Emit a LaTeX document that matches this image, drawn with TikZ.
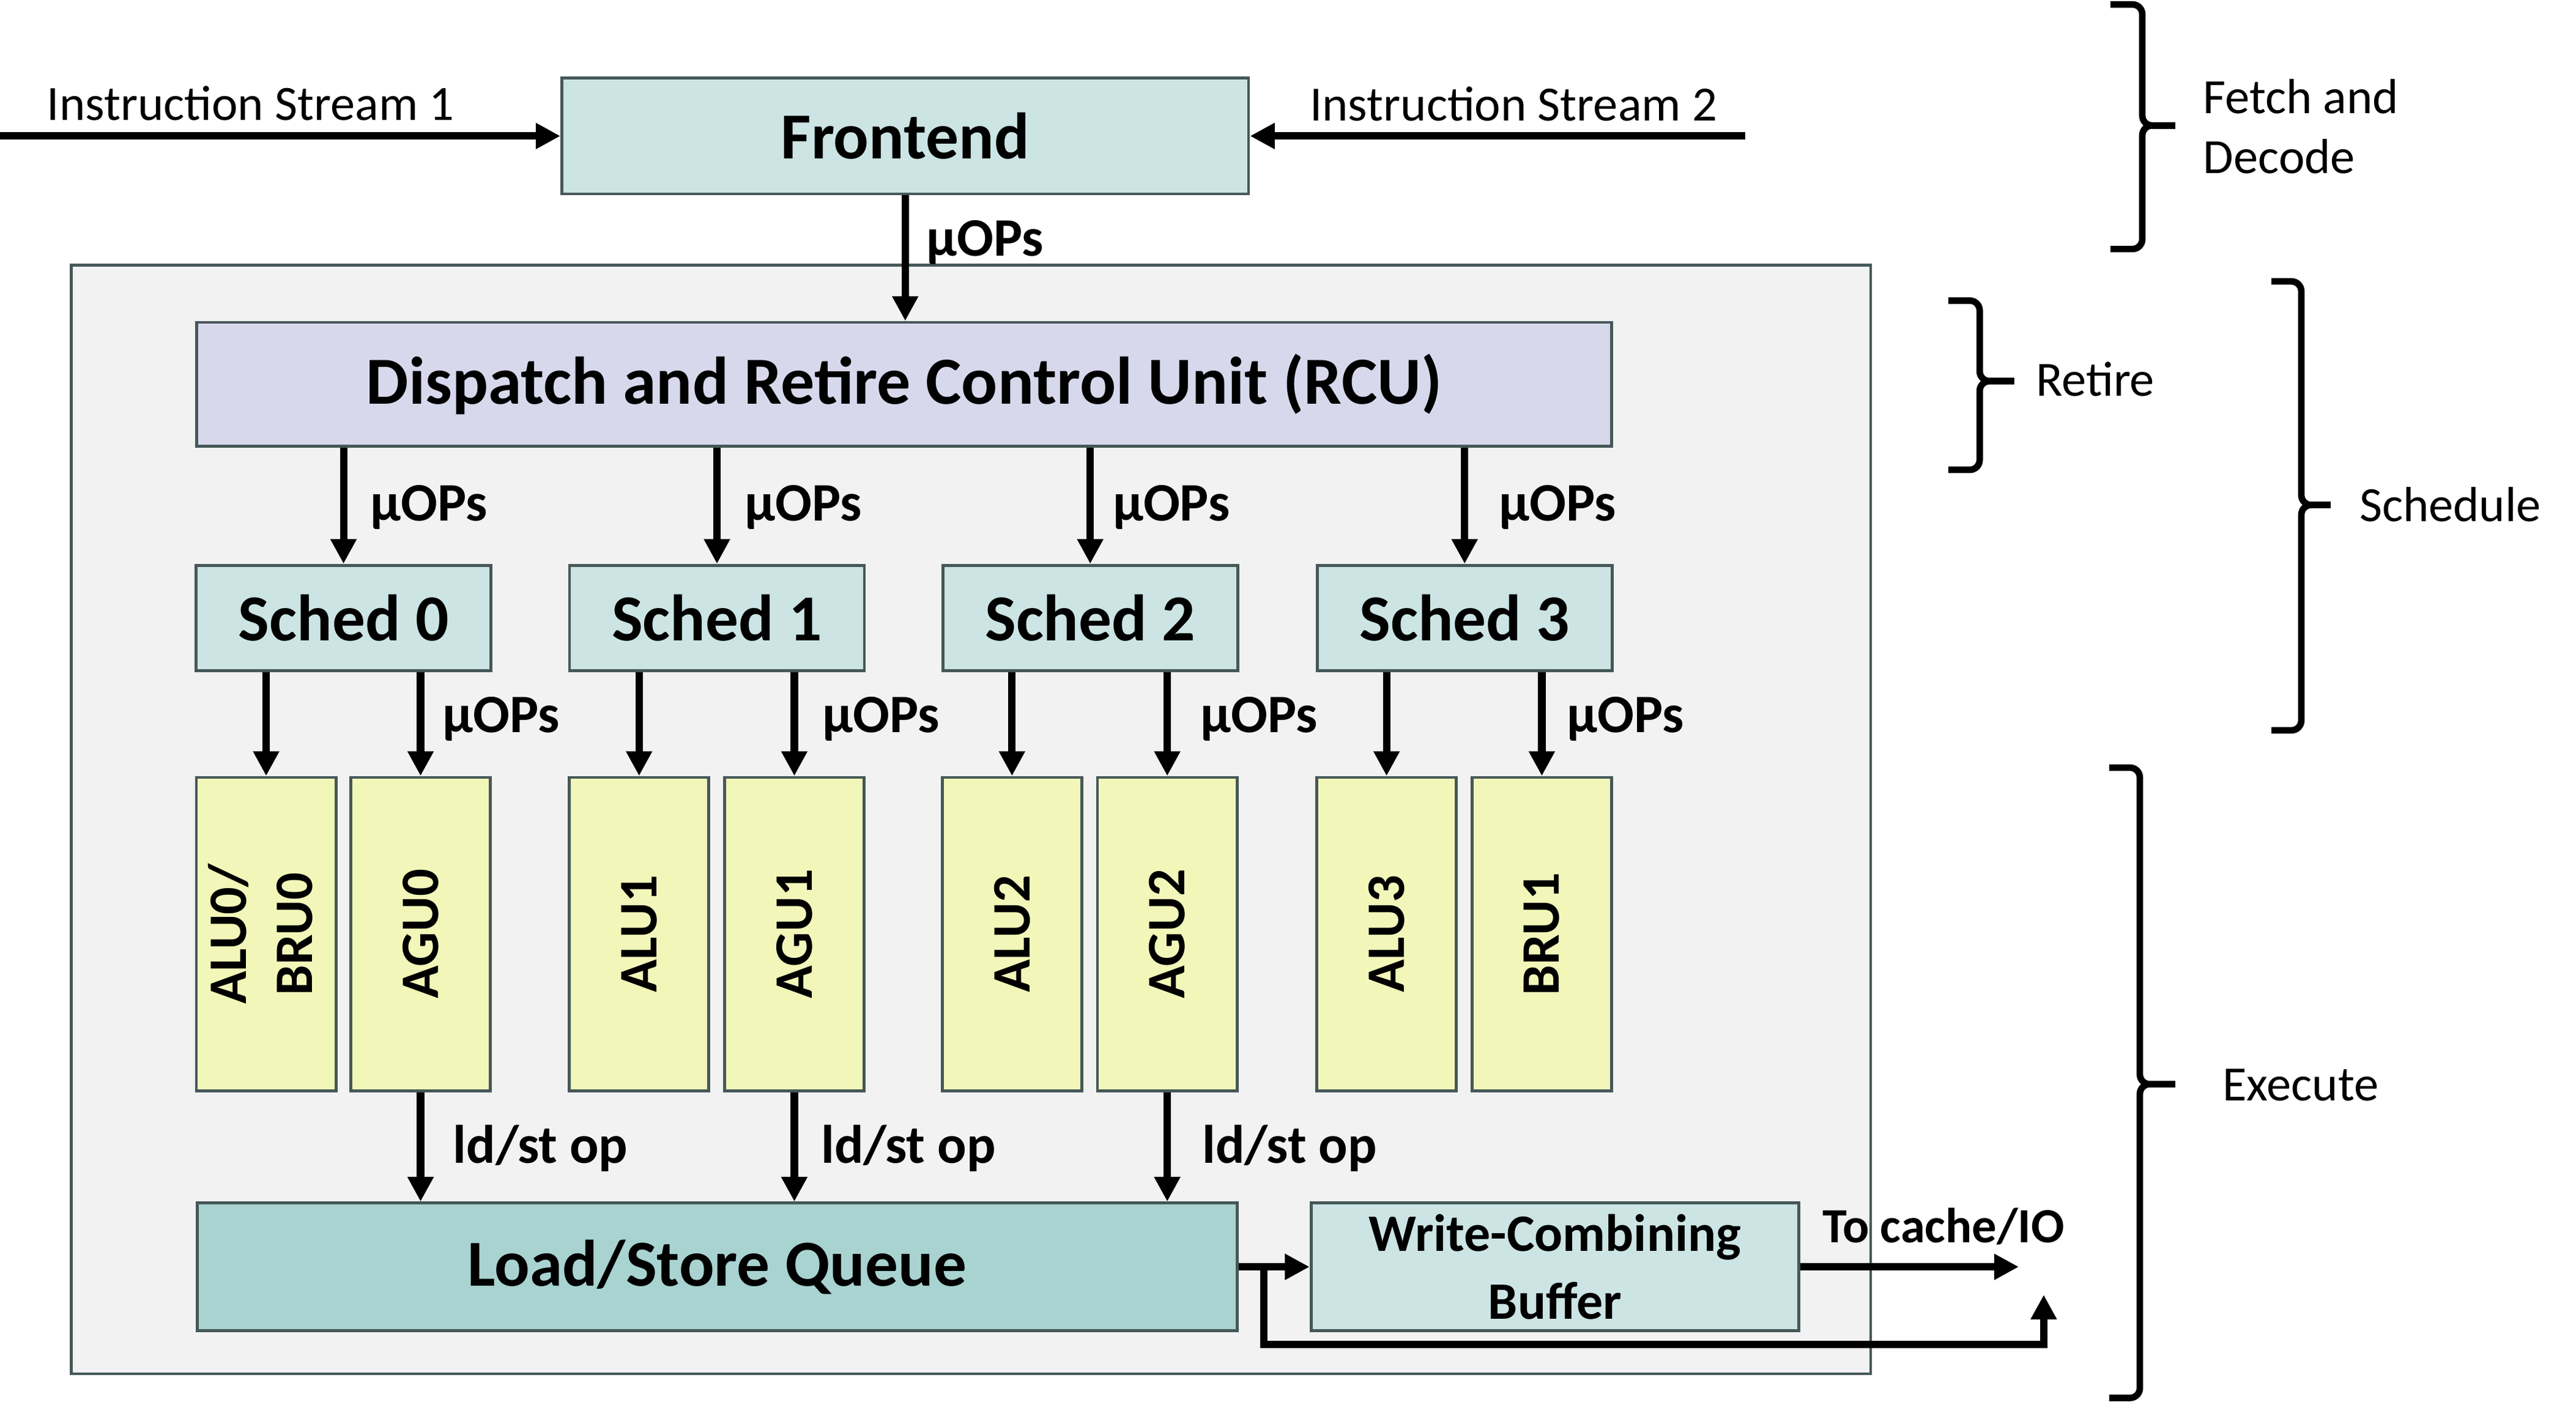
\documentclass[tikz,border=0pt]{standalone}
\usepackage{fontspec}
\setmainfont{Carlito}
\usetikzlibrary{arrows.meta}
\definecolor{boxblue}{RGB}{204,228,228}
\definecolor{rcufill}{RGB}{216,216,237}
\definecolor{unitfill}{RGB}{242,247,185}
\definecolor{lsqfill}{RGB}{168,211,209}
\definecolor{outerfill}{RGB}{242,242,242}
\definecolor{edgecol}{RGB}{70,88,88}
\begin{document}
\begin{tikzpicture}[x=1pt,y=-1pt,
  blockbox/.style={draw=edgecol, line width=1.8pt, inner sep=0pt, anchor=center},
  boxtxt/.style={font=\fontsize{40}{48}\selectfont\bfseries},
  unitbox/.style={blockbox, fill=unitfill, minimum width=85pt, minimum height=190.7pt,
     font=\fontsize{33}{40}\selectfont\bfseries},
  schedbox/.style={blockbox, fill=boxblue, boxtxt, minimum width=179.5pt, minimum height=64.2pt},
  arrlbl/.style={font=\fontsize{33}{40}\selectfont\bfseries, inner sep=0pt, anchor=base},
  streamtxt/.style={font=\fontsize{30}{36.4}\selectfont, inner sep=0pt, anchor=base},
  stagetxt/.style={font=\fontsize{30}{36.4}\selectfont, inner sep=0pt, anchor=base west, align=left},
  fuarrow/.style={line width=4.5pt, -{Triangle[width=15pt,length=15pt]}},
  bracepath/.style={line width=4pt, rounded corners=6pt}
]
\useasboundingbox (0,0) rectangle (1568,855.3);

% outer core box
\node[blockbox, fill=outerfill, minimum width=1095.3pt, minimum height=674.8pt] (core) at (591,498.9) {};

% frontend
\node[blockbox, fill=boxblue, boxtxt, minimum width=418pt, minimum height=70.5pt] (fe) at (551,82.8) {Frontend};
\coordinate (src1) at (0,82.8);
\coordinate (src2) at (1062.3,82.8);
\draw[fuarrow] (src1) -- (fe.west);
\draw[fuarrow] (src2) -- (fe.east);
\node[streamtxt] (is1) at (152.6,73.2) {Instruction Stream 1};
\node[streamtxt] (is2) at (921.3,73.7) {Instruction Stream 2};

% RCU
\node[blockbox, fill=rcufill, font=\fontsize{41}{48}\selectfont\bfseries, minimum width=861.3pt, minimum height=75.5pt] (rcu) at (550.4,234) {Dispatch and Retire Control Unit (RCU)};
\draw[fuarrow] (fe.south) -- (fe.south |- rcu.north);
\node[arrlbl] (lfe) at (599.7,155.7) {μOPs};

% schedulers
\node[schedbox] (s0) at (209.1,376.2) {Sched 0};
\node[schedbox] (s1) at (436.4,376.2) {Sched 1};
\node[schedbox] (s2) at (663.6,376.2) {Sched 2};
\node[schedbox] (s3) at (891.5,376.2) {Sched 3};
\foreach \s in {s0,s1,s2,s3}{
  \draw[fuarrow] (\s.north |- rcu.south) -- (\s.north);
}
\node[arrlbl] (ls0) at (261,317) {μOPs};
\node[arrlbl] (ls1) at (489,317) {μOPs};
\node[arrlbl] (ls2) at (713,317) {μOPs};
\node[arrlbl] (ls3) at (948,317) {μOPs};

% execution units
\node[unitbox] (alu0) at (162,568.6) {\rotatebox{90}{\begin{tabular}{@{}c@{}}ALU0/\\BRU0\end{tabular}}};
\node[unitbox] (agu0) at (256,568.6) {\rotatebox{90}{AGU0}};
\node[unitbox] (alu1) at (389,568.6) {\rotatebox{90}{ALU1}};
\node[unitbox] (agu1) at (483.5,568.6) {\rotatebox{90}{AGU1}};
\node[unitbox] (alu2) at (616,568.6) {\rotatebox{90}{ALU2}};
\node[unitbox] (agu2) at (710.5,568.6) {\rotatebox{90}{AGU2}};
\node[unitbox] (alu3) at (844,568.6) {\rotatebox{90}{ALU3}};
\node[unitbox] (bru1) at (938.5,568.6) {\rotatebox{90}{BRU1}};
\draw[fuarrow] (alu0.north |- s0.south) -- (alu0.north);
\draw[fuarrow] (agu0.north |- s0.south) -- (agu0.north);
\draw[fuarrow] (alu1.north |- s1.south) -- (alu1.north);
\draw[fuarrow] (agu1.north |- s1.south) -- (agu1.north);
\draw[fuarrow] (alu2.north |- s2.south) -- (alu2.north);
\draw[fuarrow] (agu2.north |- s2.south) -- (agu2.north);
\draw[fuarrow] (alu3.north |- s3.south) -- (alu3.north);
\draw[fuarrow] (bru1.north |- s3.south) -- (bru1.north);
\node[arrlbl] (lu0) at (305,446) {μOPs};
\node[arrlbl] (lu1) at (536.4,446) {μOPs};
\node[arrlbl] (lu2) at (766.5,446) {μOPs};
\node[arrlbl] (lu3) at (989.5,446) {μOPs};

% load/store queue and write-combining buffer
\node[blockbox, fill=lsqfill, boxtxt, minimum width=633pt, minimum height=77.7pt] (lsq) at (436.5,771.2) {Load/Store Queue};
\node[blockbox, fill=boxblue, minimum width=297pt, minimum height=77.7pt, align=center,
      font=\fontsize{32}{41}\selectfont\bfseries] (wcb) at (946.5,771.2) {Write-Combining\\Buffer};
\draw[fuarrow] (agu0.south) -- (agu0.south |- lsq.north);
\draw[fuarrow] (agu1.south) -- (agu1.south |- lsq.north);
\draw[fuarrow] (agu2.south) -- (agu2.south |- lsq.north);
\node[arrlbl] (ld0) at (329,708) {ld/st op};
\node[arrlbl] (ld1) at (553,708) {ld/st op};
\node[arrlbl] (ld2) at (785,708) {ld/st op};

\draw[fuarrow] (lsq.east) -- (wcb.west);
\coordinate (cacheout) at (1228.8,771.2);
\draw[fuarrow] (wcb.east) -- (cacheout);
\node[arrlbl, font=\fontsize{30}{36}\selectfont\bfseries] (lcache) at (1183,756.5) {To cache/IO};
\coordinate (fbstart) at (769.3,771.2);
\coordinate (fbend) at (1244,788.2);
\draw[fuarrow] (fbstart) -- ++(0,47.3) -| (fbend);

% stage braces
\draw[bracepath] (1284.6,2.7) -- (1304,2.7) -- (1304,76.4) -- (1324,76.4);
\draw[bracepath] (1324,76.4) -- (1304,76.4) -- (1304,151.6) -- (1284.6,151.6);
\node[stagetxt] (tfetch) at (1341,105.5) {Fetch and\\Decode};

\draw[bracepath] (1186,183) -- (1205,183) -- (1205,232) -- (1226,232);
\draw[bracepath] (1226,232) -- (1205,232) -- (1205,286) -- (1186,286);
\node[stagetxt] (tretire) at (1239,241.1) {Retire};

\draw[bracepath] (1382.6,171.3) -- (1400.8,171.3) -- (1400.8,307.4) -- (1418.6,307.4);
\draw[bracepath] (1418.6,307.4) -- (1400.8,307.4) -- (1400.8,444.6) -- (1382.6,444.6);
\node[stagetxt] (tsched) at (1436,317.5) {Schedule};

\draw[bracepath] (1283.8,467.3) -- (1302.5,467.3) -- (1302.5,660) -- (1324,660);
\draw[bracepath] (1324,660) -- (1302.5,660) -- (1302.5,851) -- (1283.8,851);
\node[stagetxt] (texec) at (1352.8,669.9) {Execute};
\end{tikzpicture}
\end{document}
